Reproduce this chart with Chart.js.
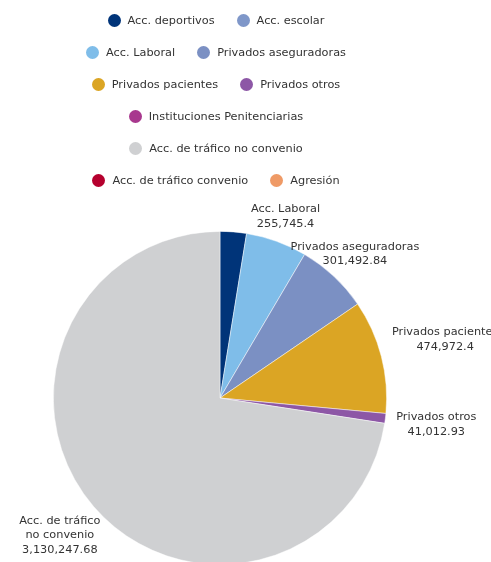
<!DOCTYPE html>
<html>
<head>
<meta charset="utf-8">
<script src="https://cdn.jsdelivr.net/npm/chart.js@4.4.1/dist/chart.umd.min.js"></script>
<style>
  html, body { margin: 0; padding: 0; background: #fff; overflow: hidden; }
  body { width: 491px; height: 562px; position: relative; }
  #wrap { position: absolute; left: 0; top: 0; width: 491px; height: 600px; }
  #legend {
    position: absolute; left: 71px; top: 4px; width: 290px;
    display: flex; flex-wrap: wrap; justify-content: center;
    font: 11.3px "DejaVu Sans", Verdana, sans-serif; color: #333;
    z-index: 2;
  }
  .item { display: flex; align-items: center; height: 32px; margin: 0 11px; white-space: nowrap; }
  .dot { width: 13px; height: 13px; border-radius: 50%; margin-right: 7px; flex: none; }
</style>
</head>
<body>
<div id="wrap"><canvas id="pie"></canvas></div>
<div id="legend"></div>
<script>
// categorías y valores
const categories = [
  'Acc. deportivos', 'Acc. escolar', 'Acc. Laboral', 'Privados aseguradoras',
  'Privados pacientes', 'Privados otros', 'Instituciones Penitenciarias',
  'Acc. de tráfico no convenio', 'Acc. de tráfico convenio', 'Agresión'
];
const values = [110000, 0, 255745.4, 301492.84, 474972.4, 41012.93, 0, 3130247.68, 0, 0];
const colors = [
  '#003479', '#7f97c9', '#7fbde9', '#7b90c3', '#dba524',
  '#8d57a6', '#a8388e', '#cfd0d2', '#b5002e', '#ef9a66'
];

const FONT = '11.3px "DejaVu Sans", Verdana, sans-serif';
const fmt = v => v.toLocaleString('en-US', { maximumFractionDigits: 2 });

// leyenda en HTML (para envolver las filas como en el original)
const legendEl = document.getElementById('legend');
categories.forEach((c, i) => {
  const it = document.createElement('div');
  it.className = 'item';
  it.innerHTML = '<span class="dot" style="background:' + colors[i] + '"></span><span>' + c + '</span>';
  legendEl.appendChild(it);
});

function wrapText(ctx, text, maxW) {
  const words = text.split(' ');
  const lines = [];
  let cur = '';
  words.forEach(w => {
    const t = cur ? cur + ' ' + w : w;
    if (cur && ctx.measureText(t).width > maxW) { lines.push(cur); cur = w; }
    else cur = t;
  });
  if (cur) lines.push(cur);
  return lines;
}

// etiquetas exteriores (nombre + valor)
const outsideLabels = {
  id: 'outsideLabels',
  afterDatasetsDraw(chart) {
    const ctx = chart.ctx;
    const meta = chart.getDatasetMeta(0);
    const lh = 14.5;
    const off = 11;
    const placed = [];
    ctx.save();
    ctx.font = FONT;
    ctx.fillStyle = '#333';
    ctx.textAlign = 'center';
    ctx.textBaseline = 'middle';
    const order = values.map((v, i) => i).filter(i => values[i] > 0)
      .sort((a, b) => values[b] - values[a]);
    order.forEach(i => {
      const arc = meta.data[i];
      const p = arc.getProps(['x', 'y', 'startAngle', 'endAngle', 'outerRadius'], true);
      const mid = (p.startAngle + p.endAngle) / 2;
      const dx = Math.cos(mid), dy = Math.sin(mid);
      const ax = p.x + (p.outerRadius + off) * dx;
      const ay = p.y + (p.outerRadius + off) * dy;
      const place = lines => {
        const w = Math.max(...lines.map(l => ctx.measureText(l).width));
        const h = lines.length * lh;
        const d = Math.min(
          Math.abs(dx) > 1e-6 ? w / 2 / Math.abs(dx) : Infinity,
          Math.abs(dy) > 1e-6 ? h / 2 / Math.abs(dy) : Infinity);
        const cx = ax + dx * d, cy = ay + dy * d;
        return { lines, w, h, cx, cy };
      };
      let box = place([categories[i], fmt(values[i])]);
      // sólo se parte el texto si se sale por la izquierda
      if (box.cx - box.w / 2 < 2) {
        box = place(wrapText(ctx, categories[i], 95).concat([fmt(values[i])]));
      }
      const r = { l: box.cx - box.w / 2, r: box.cx + box.w / 2, t: box.cy - box.h / 2, b: box.cy + box.h / 2 };
      if (placed.some(q => r.l < q.r && r.r > q.l && r.t < q.b && r.b > q.t)) return;
      placed.push(r);
      box.lines.forEach((l, k) => {
        ctx.fillText(l, box.cx, r.t + lh / 2 + k * lh);
      });
    });
    ctx.restore();
  }
};

new Chart(document.getElementById('pie'), {
  type: 'pie',
  data: {
    labels: categories,
    datasets: [{
      data: values,
      backgroundColor: colors,
      borderColor: 'rgba(255,255,255,0.6)',
      borderWidth: 0.8
    }]
  },
  options: {
    responsive: true,
    maintainAspectRatio: false,
    animation: false,
    layout: { padding: { left: 53, right: 104, top: 231, bottom: 35 } },
    plugins: {
      legend: { display: false },
      tooltip: { enabled: false }
    }
  },
  plugins: [outsideLabels]
});
</script>
</body>
</html>
